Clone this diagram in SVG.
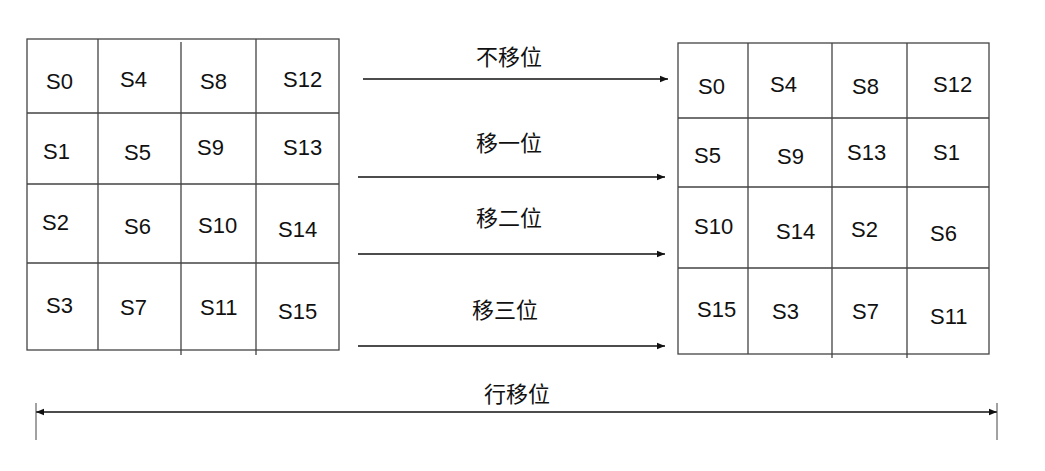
<svg xmlns="http://www.w3.org/2000/svg" width="1045" height="471" viewBox="0 0 1045 471">
<style>
.g{fill:none;stroke:#444;stroke-width:1.3}
.t{font-family:"Liberation Sans",Arial,sans-serif;font-size:22px;fill:#111}
.c{font-family:"Noto Sans CJK SC",sans-serif;font-size:22px;fill:#111;text-anchor:middle}
.a{stroke:#111;stroke-width:1.5;fill:none}
</style>
<defs>
<marker id="ar" viewBox="0 0 10 10" refX="10" refY="5" markerWidth="10" markerHeight="8" orient="auto-start-reverse" markerUnits="userSpaceOnUse"><path d="M0,1 L10,5 L0,9 z" fill="#111"/></marker>
</defs>
<rect width="1045" height="471" fill="#fff"/>
<g id="left-grid">
<rect class="g" x="27" y="39" width="312" height="311"/>
<path class="g" d="M98,39V350M181,42V355M256,39V355M27,113H339M27,184H339M27,263H339"/>
<text class="t" x="46" y="89">S0</text><text class="t" x="120" y="87">S4</text><text class="t" x="200" y="89">S8</text><text class="t" x="283" y="87">S12</text>
<text class="t" x="43" y="159">S1</text><text class="t" x="124" y="160">S5</text><text class="t" x="197" y="155">S9</text><text class="t" x="283" y="155">S13</text>
<text class="t" x="42" y="230">S2</text><text class="t" x="124" y="234">S6</text><text class="t" x="198" y="233">S10</text><text class="t" x="278" y="237">S14</text>
<text class="t" x="46" y="313">S3</text><text class="t" x="120" y="315">S7</text><text class="t" x="200" y="315">S11</text><text class="t" x="278" y="319">S15</text>
</g>
<g id="right-grid">
<rect class="g" x="678" y="43" width="311" height="311"/>
<path class="g" d="M748,43V354M832,43V358M907,43V358M678,118H989M678,187H989M678,268H989"/>
<text class="t" x="698" y="94">S0</text><text class="t" x="770" y="92">S4</text><text class="t" x="852" y="94">S8</text><text class="t" x="933" y="92">S12</text>
<text class="t" x="694" y="163">S5</text><text class="t" x="777" y="164">S9</text><text class="t" x="847" y="160">S13</text><text class="t" x="933" y="160">S1</text>
<text class="t" x="694" y="234">S10</text><text class="t" x="776" y="239">S14</text><text class="t" x="851" y="237">S2</text><text class="t" x="930" y="241">S6</text>
<text class="t" x="697" y="317">S15</text><text class="t" x="772" y="319">S3</text><text class="t" x="852" y="319">S7</text><text class="t" x="930" y="324">S11</text>
</g>
<g id="connectors">
<path class="a" d="M363,79H668" marker-end="url(#ar)"/>
<path class="a" d="M358,177H665" marker-end="url(#ar)"/>
<path class="a" d="M358,254H665" marker-end="url(#ar)"/>
<path class="a" d="M358,346H665" marker-end="url(#ar)"/>
<path class="a" d="M36,412H997" marker-start="url(#ar)" marker-end="url(#ar)"/>
<path stroke="#444" stroke-width="1" d="M36,403V440M997,403V440"/>
</g>
<g id="labels">
<text class="c" x="509" y="65">不移位</text>
<text class="c" x="509" y="151">移一位</text>
<text class="c" x="509" y="226">移二位</text>
<text class="c" x="505" y="318">移三位</text>
<text class="c" x="517" y="402">行移位</text>
</g>
</svg>
